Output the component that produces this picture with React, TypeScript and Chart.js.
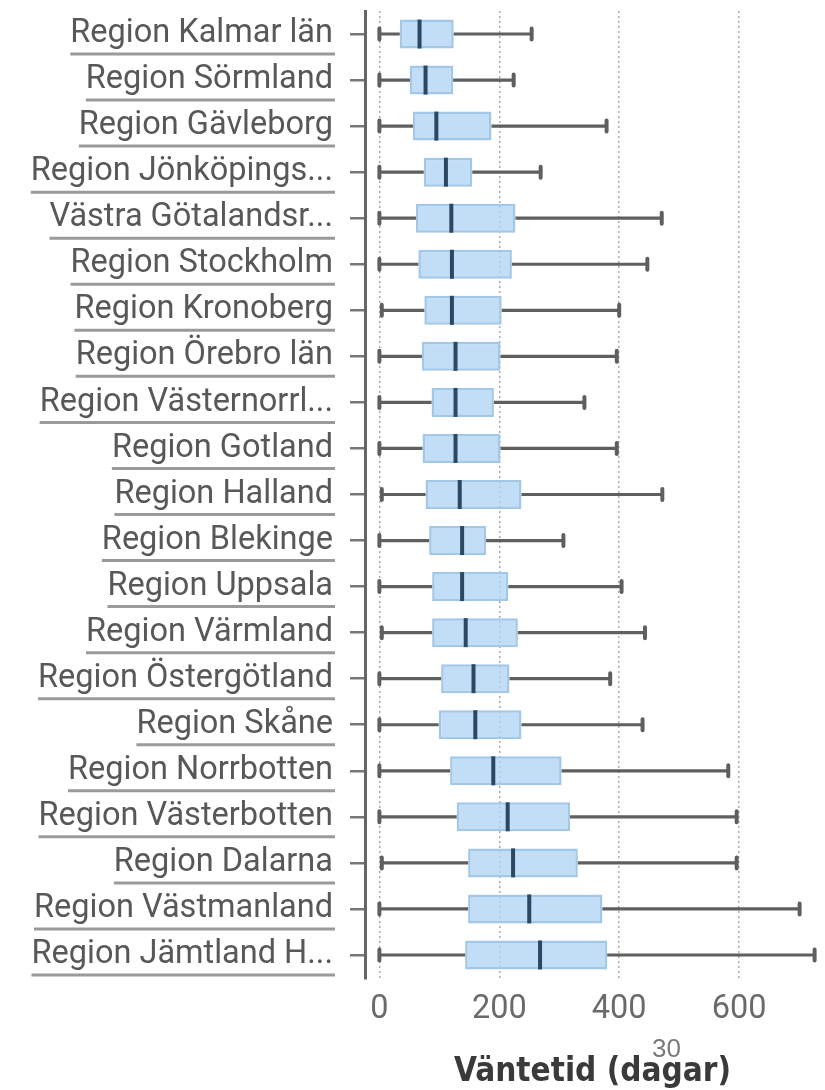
import React, { useEffect, useRef } from "react";
import { Chart, registerables } from "chart.js";

Chart.register(...registerables);

const categories = [
  "Region Kalmar län",
  "Region Sörmland",
  "Region Gävleborg",
  "Region Jönköpings...",
  "Västra Götalandsr...",
  "Region Stockholm",
  "Region Kronoberg",
  "Region Örebro län",
  "Region Västernorrl...",
  "Region Gotland",
  "Region Halland",
  "Region Blekinge",
  "Region Uppsala",
  "Region Värmland",
  "Region Östergötland",
  "Region Skåne",
  "Region Norrbotten",
  "Region Västerbotten",
  "Region Dalarna",
  "Region Västmanland",
  "Region Jämtland H...",
];
const minValues = [0, 0, 0, 0, 0, 0, 4, 0, 0, 0, 4, 0, 0, 4, 0, 0, 0, 0, 4, 0, 0];
const q1Values = [34, 51, 56, 74, 61, 65, 75, 71, 87, 72, 77, 83, 88, 88, 103, 99, 118, 129, 148, 148, 143];
const medianValues = [67, 77, 95, 111, 120, 121, 121, 127, 127, 127, 134, 138, 138, 144, 157, 160, 190, 214, 223, 250, 268];
const q3Values = [124, 123, 187, 155, 227, 221, 204, 202, 191, 202, 237, 178, 215, 231, 217, 237, 304, 318, 331, 372, 380];
const maxValues = [254, 224, 379, 269, 471, 447, 400, 396, 342, 396, 472, 307, 404, 443, 385, 439, 582, 596, 596, 701, 726];
const xTickValues = [0, 200, 400, 600];
const xTitle = "Väntetid (dagar)";
const pageNumber = "30";

const LABEL_FONT = { family: "Roboto", size: 32.5 };
const Y_TICK_LEN = 15;
const Y_TICK_PAD = 17;

const boxPlugin = {
  id: "boxWhiskers",
  afterDatasetsDraw(chart: any) {
    const { ctx } = chart;
    const xs = chart.scales.x;
    const ys = chart.scales.y;
    const meta = chart.getDatasetMeta(0);
    ctx.save();
    categories.forEach((_, i) => {
      const bar: any = meta.data[i];
      const h = bar.height;
      const y = ys.getPixelForValue(i);
      const pMin = xs.getPixelForValue(minValues[i]);
      const pQ1 = xs.getPixelForValue(q1Values[i]);
      const pMed = xs.getPixelForValue(medianValues[i]);
      const pQ3 = xs.getPixelForValue(q3Values[i]);
      const pMax = xs.getPixelForValue(maxValues[i]);
      ctx.strokeStyle = "#5f5f5f";
      ctx.lineWidth = 3.2;
      ctx.beginPath();
      ctx.moveTo(pMin, y);
      ctx.lineTo(pQ1, y);
      ctx.moveTo(pQ3, y);
      ctx.lineTo(pMax, y);
      ctx.stroke();
      ctx.lineWidth = 4;
      ctx.lineCap = "round";
      ctx.beginPath();
      ctx.moveTo(pMin, y - 5.5);
      ctx.lineTo(pMin, y + 5.5);
      ctx.moveTo(pMax, y - 5.5);
      ctx.lineTo(pMax, y + 5.5);
      ctx.stroke();
      ctx.lineCap = "butt";
      ctx.strokeStyle = "#2b4763";
      ctx.lineWidth = 4;
      ctx.beginPath();
      ctx.moveTo(pMed, y - h / 2);
      ctx.lineTo(pMed, y + h / 2);
      ctx.stroke();
    });
    ctx.restore();
  },
};

const underlinePlugin = {
  id: "labelUnderline",
  afterDraw(chart: any) {
    const { ctx } = chart;
    const ys = chart.scales.y;
    const right = ys.right - Y_TICK_LEN - Y_TICK_PAD;
    ctx.save();
    ctx.font = `${LABEL_FONT.size}px ${LABEL_FONT.family}`;
    ctx.strokeStyle = "#9a9a9a";
    ctx.lineWidth = 3;
    categories.forEach((label, i) => {
      const y = ys.getPixelForValue(i) + 20;
      const w = ctx.measureText(label).width;
      ctx.beginPath();
      ctx.moveTo(right - w, y);
      ctx.lineTo(right + 2, y);
      ctx.stroke();
    });
    ctx.restore();
  },
};

export default function App() {
  const ref = useRef<HTMLCanvasElement>(null);
  useEffect(() => {
    const chart = new Chart(ref.current as HTMLCanvasElement, {
      type: "bar",
      data: {
        labels: categories,
        datasets: [
          {
            data: categories.map((_, i) => [q1Values[i], q3Values[i]]) as any,
            backgroundColor: "rgba(176, 213, 244, 0.78)",
            borderColor: "#a3c7e6",
            borderWidth: 2.5,
            borderSkipped: false,
            barPercentage: 0.63,
            categoryPercentage: 1,
          },
        ],
      },
      options: {
        indexAxis: "y",
        responsive: false,
        animation: false,
        layout: { padding: { left: 0, right: 5, top: 11, bottom: 0 } },
        plugins: { legend: { display: false }, tooltip: { enabled: false } },
        scales: {
          x: {
            type: "linear",
            min: -24,
            max: 735,
            afterBuildTicks: (s: any) => {
              s.ticks = xTickValues.map((v) => ({ value: v }));
            },
            afterFit: (s: any) => {
              s.height = 112;
              s.paddingLeft = 0;
              s.paddingRight = 0;
            },
            grid: { drawTicks: false, color: "#aaaaaa", lineWidth: 1.5 },
            border: { display: false, dash: [2, 3] },
            ticks: { padding: 12, color: "#6a6a6a", font: LABEL_FONT },
            title: {
              display: true,
              text: xTitle,
              color: "#3a3a3a",
              font: { family: "'DejaVu Sans Condensed', 'DejaVu Sans'", size: 33, weight: "bold" },
              padding: { top: 0, bottom: -2 },
            },
          },
          y: {
            afterFit: (s: any) => {
              s.width = 365;
              s.paddingTop = 0;
              s.paddingBottom = 0;
            },
            grid: {
              drawOnChartArea: false,
              drawTicks: true,
              tickLength: Y_TICK_LEN,
              color: "#777777",
              lineWidth: 2.5,
              offset: false,
            },
            border: { display: true, color: "#666666", width: 3 },
            ticks: { padding: Y_TICK_PAD, color: "#585858", font: LABEL_FONT, autoSkip: false },
          },
        },
      } as any,
      plugins: [boxPlugin, underlinePlugin],
    });
    return () => chart.destroy();
  }, []);
  return (
    <div
      style={{
        position: "absolute",
        left: 0,
        top: 0,
        width: 825,
        height: 1090,
        background: "#fff",
        overflow: "hidden",
      }}
    >
      <canvas ref={ref} width={825} height={1090} style={{ display: "block", width: 825, height: 1090 }} />
      <div
        style={{
          position: "absolute",
          left: 652,
          top: 1035,
          fontFamily: "'Liberation Sans', sans-serif",
          fontSize: 26,
          lineHeight: "26px",
          color: "#7a7a7a",
        }}
      >
        {pageNumber}
      </div>
    </div>
  );
}
